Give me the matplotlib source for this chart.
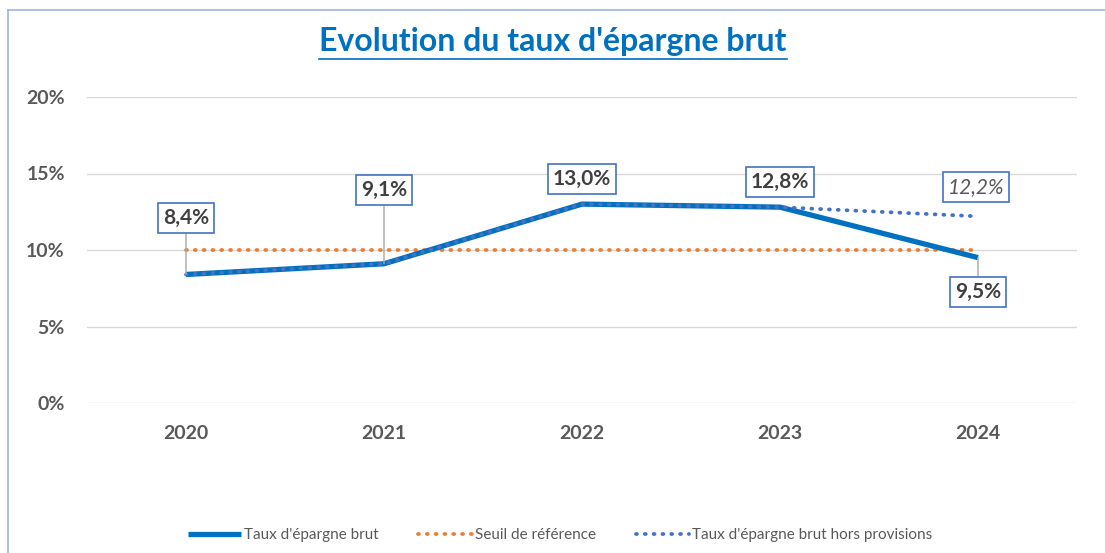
import matplotlib.pyplot as plt
from matplotlib.lines import Line2D
from matplotlib.ticker import FuncFormatter

# data
annees = ['2020', '2021', '2022', '2023', '2024']
taux_brut = [8.4, 9.1, 13.0, 12.8, 9.5]
seuil = [10, 10, 10, 10, 10]
taux_hors_prov = [8.4, 9.1, 13.0, 12.8, 12.2]
etiquettes = ['8,4%', '9,1%', '13,0%', '12,8%', '9,5%']
etiquette_hors_prov = '12,2%'

plt.rcParams['font.family'] = ['Lato', 'DejaVu Sans']

fig = plt.figure(figsize=(11.05, 5.53), dpi=100)
ax = fig.add_axes([87 / 1105, 1 - 403 / 553, 990 / 1105, 306 / 553])

x = list(range(len(annees)))
dots = (0, (0.25, 2.1))
ax.plot(x, taux_brut, color='#0070C0', lw=3.8, solid_capstyle='butt',
        label="Taux d'épargne brut", zorder=3)
ax.plot(x, seuil, color='#ED7D31', lw=2.7, ls=dots,
        dash_capstyle='round', label='Seuil de référence', zorder=2)
ax.plot(x, taux_hors_prov, color='#4472C4', lw=2.7, ls=dots,
        dash_capstyle='round', label="Taux d'épargne brut hors provisions", zorder=4)

ax.set_xlim(-0.5, 4.5)
ax.set_ylim(0, 20)
ax.set_yticks([0, 5, 10, 15, 20])
ax.yaxis.set_major_formatter(FuncFormatter(lambda v, p: f'{v:.0f}%'))
ax.set_xticks(x)
ax.set_xticklabels(annees)
for lbl in ax.get_xticklabels() + ax.get_yticklabels():
    lbl.set_fontweight('bold')
    lbl.set_fontsize(14)
    lbl.set_color('#595959')
ax.tick_params(length=0)
ax.tick_params(axis='x', pad=16)
ax.tick_params(axis='y', pad=16)
ax.grid(axis='y', color='#D9D9D9', lw=1)
ax.set_axisbelow(True)
for s in ax.spines.values():
    s.set_visible(False)

# data labels
box = dict(boxstyle='square,pad=0.25', fc='white', ec='#4472C4', lw=1.2)
lab_y = [12.09, 13.92, 14.64, 14.44, 7.25]
leader = [True, True, False, False, True]
for i, (v, t) in enumerate(zip(taux_brut, etiquettes)):
    ap = dict(arrowstyle='-', color='#A6A6A6', lw=1, shrinkA=0, shrinkB=0) if leader[i] else None
    ax.annotate(t, xy=(i, v), xytext=(i, lab_y[i]), ha='center', va='center',
                fontsize=15, fontweight='bold', color='#404040', bbox=box,
                arrowprops=ap, zorder=6)
ax.annotate(etiquette_hors_prov, xy=(4, taux_hors_prov[4]), xytext=(3.99, 14.12),
            ha='center', va='center', fontsize=15, fontstyle='italic',
            color='#595959', bbox=box, zorder=6)

# legend
leg = ax.legend(loc='center', bbox_to_anchor=(560 / 1105, 1 - 535 / 553), bbox_transform=fig.transFigure,
                ncol=3, frameon=False, fontsize=11, handlelength=3.5, handletextpad=0.2,
                columnspacing=2.6)
for t in leg.get_texts():
    t.set_color('#595959')

# title, underlined
title = fig.text(553 / 1105, 1 - 42 / 553, "Evolution du taux d'épargne brut", ha='center',
                 va='center', fontsize=23, fontweight='bold', color='#0070C0')
fig.canvas.draw()
bb = title.get_window_extent().transformed(fig.transFigure.inverted())
fig.add_artist(Line2D([bb.x0, bb.x1], [bb.y0 - 0.004, bb.y0 - 0.004], color='#0070C0', lw=1.2))

# outer frame (left and top)
fig.add_artist(Line2D([8 / 1105, 8 / 1105], [0, 1 - 10 / 553], color='#9DB5E6', lw=1.2))
fig.add_artist(Line2D([8 / 1105, 1], [1 - 10 / 553, 1 - 10 / 553], color='#9DB5E6', lw=1.2))

fig.savefig('out.png', dpi=100)
